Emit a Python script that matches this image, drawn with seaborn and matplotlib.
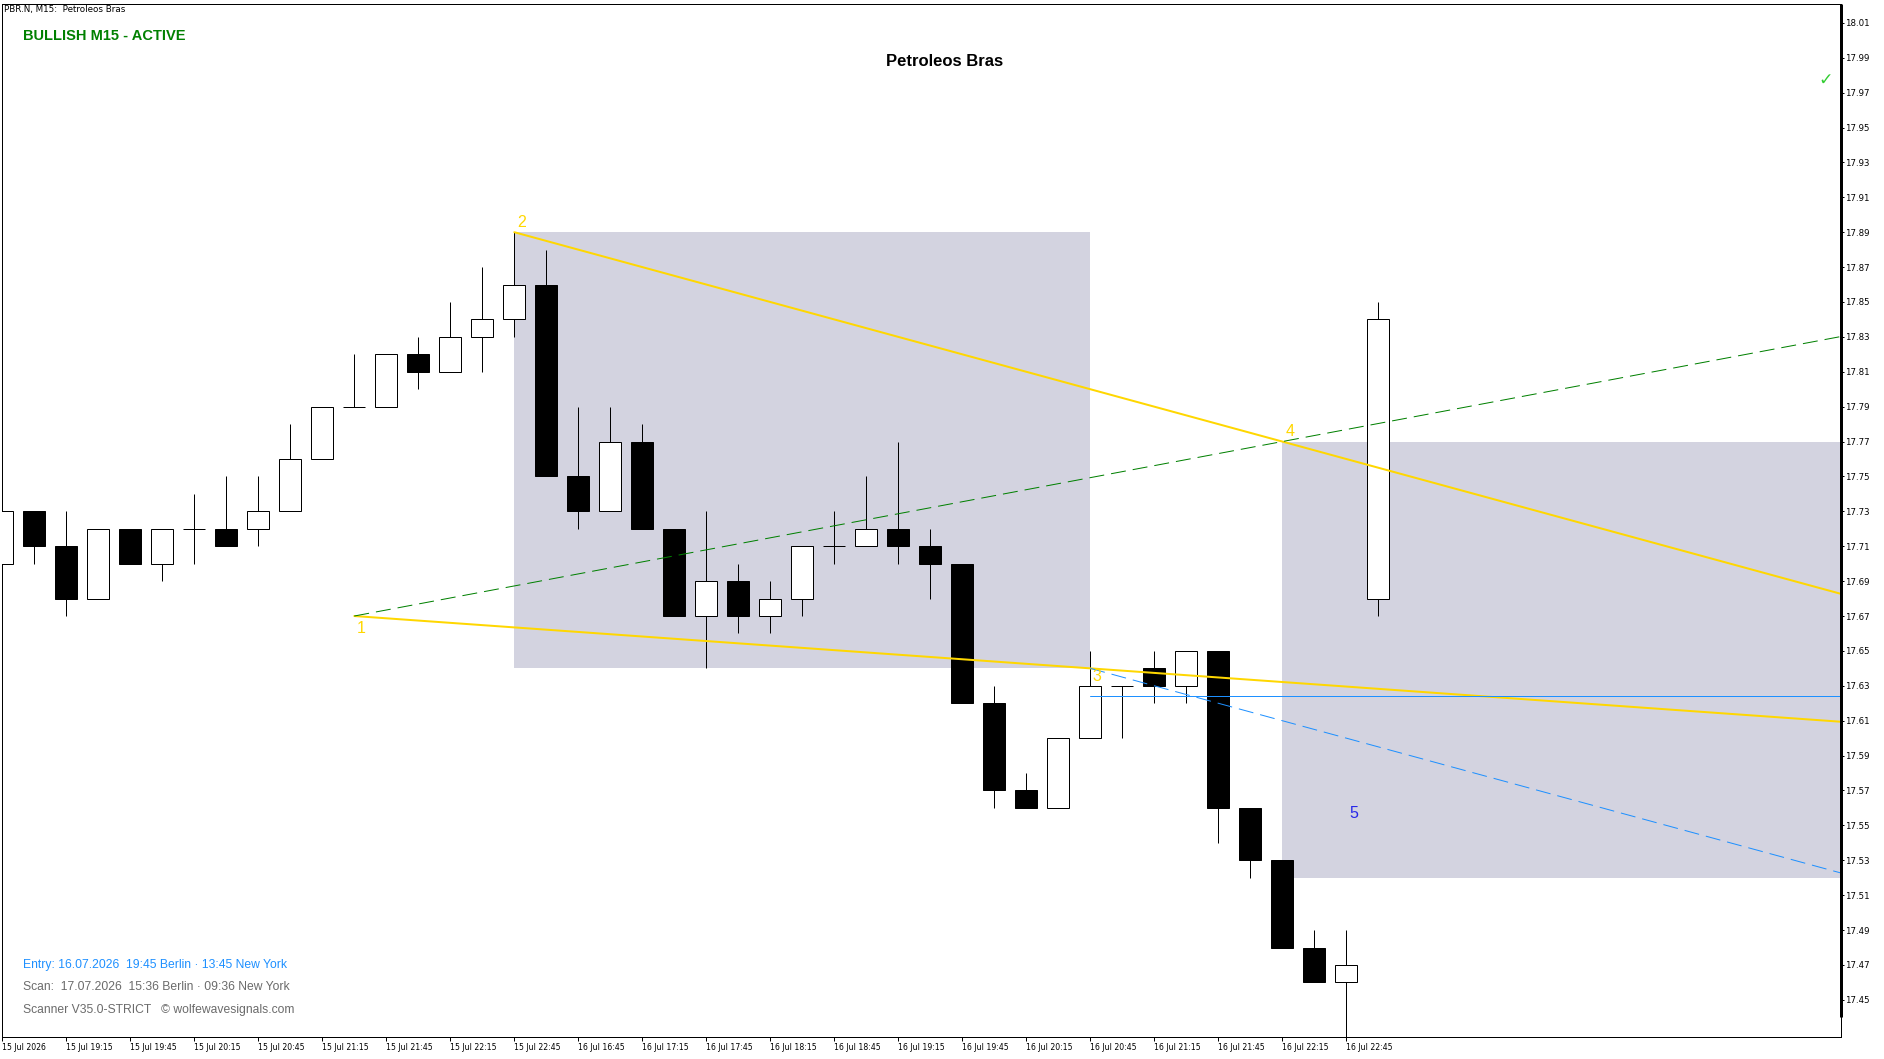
import numpy as np
import pandas as pd
import matplotlib
matplotlib.use("Agg")
import matplotlib.pyplot as plt
import seaborn as sns

# ------------------------------------------------------------------ data
opens  = [17.70, 17.73, 17.71, 17.68, 17.72, 17.70, 17.72, 17.72, 17.72, 17.73,
          17.76, 17.79, 17.79, 17.82, 17.81, 17.83, 17.84, 17.86, 17.75, 17.73,
          17.77, 17.72, 17.67, 17.69, 17.67, 17.68, 17.71, 17.71, 17.72, 17.71,
          17.70, 17.62, 17.57, 17.56, 17.60, 17.63, 17.64, 17.63, 17.65, 17.56,
          17.53, 17.48, 17.46, 17.68]
highs  = [17.73, 17.73, 17.73, 17.72, 17.72, 17.72, 17.74, 17.75, 17.75, 17.78,
          17.79, 17.82, 17.82, 17.83, 17.85, 17.87, 17.89, 17.88, 17.79, 17.79,
          17.78, 17.72, 17.73, 17.70, 17.69, 17.71, 17.73, 17.75, 17.77, 17.72,
          17.70, 17.63, 17.58, 17.60, 17.65, 17.63, 17.65, 17.65, 17.65, 17.56,
          17.53, 17.49, 17.49, 17.85]
lows   = [17.70, 17.70, 17.67, 17.68, 17.70, 17.69, 17.70, 17.71, 17.71, 17.73,
          17.76, 17.79, 17.79, 17.80, 17.81, 17.81, 17.83, 17.75, 17.72, 17.73,
          17.72, 17.67, 17.64, 17.66, 17.66, 17.67, 17.70, 17.71, 17.70, 17.68,
          17.62, 17.56, 17.56, 17.56, 17.60, 17.60, 17.62, 17.62, 17.54, 17.52,
          17.48, 17.46, 17.42, 17.67]
closes = [17.73, 17.71, 17.68, 17.72, 17.70, 17.72, 17.72, 17.71, 17.73, 17.76,
          17.79, 17.79, 17.82, 17.81, 17.83, 17.84, 17.86, 17.75, 17.73, 17.77,
          17.72, 17.67, 17.69, 17.67, 17.68, 17.71, 17.71, 17.72, 17.71, 17.70,
          17.62, 17.57, 17.56, 17.60, 17.63, 17.63, 17.63, 17.65, 17.56, 17.53,
          17.48, 17.46, 17.47, 17.84]

time_labels = ["15 Jul 2026", "15 Jul 19:15", "15 Jul 19:45", "15 Jul 20:15",
               "15 Jul 20:45", "15 Jul 21:15", "15 Jul 21:45", "15 Jul 22:15",
               "15 Jul 22:45", "16 Jul 16:45", "16 Jul 17:15", "16 Jul 17:45",
               "16 Jul 18:15", "16 Jul 18:45", "16 Jul 19:15", "16 Jul 19:45",
               "16 Jul 20:15", "16 Jul 20:45", "16 Jul 21:15", "16 Jul 21:45",
               "16 Jul 22:15", "16 Jul 22:45"]
time_label_bars = [0, 2, 4, 6, 8, 10, 12, 14, 16, 18, 20, 22, 24, 26, 28, 30,
                   32, 34, 36, 38, 40, 42]

price_ticks = [17.45, 17.47, 17.49, 17.51, 17.53, 17.55, 17.57, 17.59, 17.61,
               17.63, 17.65, 17.67, 17.69, 17.71, 17.73, 17.75, 17.77, 17.79,
               17.81, 17.83, 17.85, 17.87, 17.89, 17.91, 17.93, 17.95, 17.97,
               17.99, 18.01]

wave_names  = ["1", "2", "3", "4"]
wave_bars   = [11, 16, 34, 40]
wave_prices = [17.67, 17.89, 17.64, 17.77]

target_name  = "5"
target_bar   = 42.25
target_price = 17.557
entry_price  = 17.624
zone2_low    = 17.52

title_text   = "Petroleos Bras"
symbol_text  = "PBR.N, M15:  Petroleos Bras"
status_text  = "BULLISH M15 - ACTIVE"
entry_text   = "Entry: 16.07.2026  19:45 Berlin \u00b7 13:45 New York"
scan_text    = "Scan:  17.07.2026  15:36 Berlin \u00b7 09:36 New York"
credit_text  = "Scanner V35.0-STRICT   \u00a9 wolfewavesignals.com"

# ------------------------------------------------------------------ style
W, H, DPI = 1884, 1059, 100
PX = 72.0 / DPI          # points per pixel

sns.set_theme(style="white")
plt.rcParams["font.family"] = ["Liberation Sans", "DejaVu Sans"]
plt.rcParams["axes.linewidth"] = PX

GOLD = "#FFD700"
ZONE = "#D3D3E0"
GREEN = "#008000"
BLUE = "#1E90FF"

fig = plt.figure(figsize=(W / DPI, H / DPI), dpi=DPI)
fig.patch.set_facecolor("white")
ax = fig.add_axes([2 / W, (H - 1037) / H, (1841 - 2) / W, (1037 - 4) / H])
ax.set_facecolor("white")

XMAX = 57.46
ax.set_xlim(-0.01, XMAX)
ax.set_ylim(17.4287, 18.0208)

df = pd.DataFrame({"bar": np.arange(len(opens)), "open": opens, "high": highs,
                   "low": lows, "close": closes})
df["up"] = df["close"] >= df["open"]
df["bottom"] = df[["open", "close"]].min(axis=1)
df["height"] = (df["close"] - df["open"]).abs()

# zones
ax.fill_between([wave_bars[1], wave_bars[2]], wave_prices[2], wave_prices[1],
                color=ZONE, lw=0, zorder=1)
ax.fill_between([wave_bars[3], XMAX + 2], zone2_low, wave_prices[3],
                color=ZONE, lw=0, zorder=1)

# candles
BW = 0.69
ax.vlines(df["bar"], df["low"], df["high"], color="black", lw=PX, zorder=3)
body = df[df["height"] > 0]
ax.bar(body["bar"], body["height"], bottom=body["bottom"], width=BW,
       color=np.where(body["up"], "white", "black"), edgecolor="black",
       linewidth=PX, zorder=4)
doji = df[df["height"] == 0]
ax.hlines(doji["close"], doji["bar"] - BW / 2, doji["bar"] + BW / 2,
          color="black", lw=PX, zorder=4)


def extend(xa, ya, slope, x_end):
    return [xa, x_end], [ya, ya + slope * (x_end - xa)]


s13 = (wave_prices[2] - wave_prices[0]) / (wave_bars[2] - wave_bars[0])
s24 = (wave_prices[3] - wave_prices[1]) / (wave_bars[3] - wave_bars[1])
s14 = (wave_prices[3] - wave_prices[0]) / (wave_bars[3] - wave_bars[0])

lines = [
    (extend(wave_bars[0], wave_prices[0], s13, XMAX), GOLD, 2 * PX, "-"),
    (extend(wave_bars[1], wave_prices[1], s24, XMAX), GOLD, 2 * PX, "-"),
    (extend(wave_bars[0], wave_prices[0], s14, XMAX), GREEN, PX, (0, (15, 7))),
    (extend(wave_bars[2], wave_prices[2], s24, XMAX), BLUE, PX, (0, (15, 7))),
    (([wave_bars[2], XMAX], [entry_price, entry_price]), BLUE, PX, "-"),
]
for (xs, ys), col, lw, ls in lines:
    sns.lineplot(x=xs, y=ys, ax=ax, color=col, lw=lw, linestyle=ls,
                 zorder=6, legend=False)

offsets = [(7, -12), (7, 10), (7, -8), (8, 10)]
for name, bx, py, (dx, dy) in zip(wave_names, wave_bars, wave_prices, offsets):
    ax.annotate(name, (bx, py), xytext=(dx * PX, dy * PX),
                textcoords="offset points", ha="center", va="center",
                color=GOLD, fontsize=11.5, zorder=7)
ax.text(target_bar, target_price, target_name, color="#2828E8",
        fontsize=11.5, ha="center", va="center", zorder=7)

# axes / ticks
for sp in ax.spines.values():
    sp.set_color("black")
    sp.set_linewidth(PX)
    sp.set_visible(True)
ax.plot([1, 1], [0.019, 1], transform=ax.transAxes, color="black",
        lw=3 * PX, clip_on=False, solid_capstyle="butt", zorder=8)

ax.yaxis.tick_right()
ax.set_yticks(price_ticks)
ax.set_yticklabels([f"{p:.2f}" for p in price_ticks])
ax.tick_params(axis="y", which="both", right=True, left=False,
               direction="out", length=3 * PX, width=PX, pad=1.5 * PX,
               labelsize=6.2, labelcolor="black", color="black",
               labelfontfamily="DejaVu Sans")
ax.set_xticks(time_label_bars)
ax.set_xticklabels(time_labels)
ax.tick_params(axis="x", which="both", bottom=True, top=False,
               direction="out", length=4 * PX, width=PX, pad=2 * PX,
               labelsize=5.6, labelcolor="black", color="black",
               labelfontfamily="DejaVu Sans")
for lbl in ax.get_xticklabels():
    lbl.set_ha("left")
ax.set_xlabel("")
ax.set_ylabel("")
ax.grid(False)

# texts
fig.text(4 / W, 1 - 9.5 / H, symbol_text, fontsize=6.3, va="center",
         ha="left", color="black", family="DejaVu Sans")
fig.text(23 / W, 1 - 36.5 / H, status_text, fontsize=10.5, fontweight="bold",
         va="center", ha="left", color="#008000")
fig.text(945 / W, 1 - 61 / H, title_text, fontsize=12, fontweight="bold",
         va="center", ha="center", color="black")
fig.text(1826 / W, 1 - 80 / H, "\u2713", fontsize=12.5, va="center",
         ha="center", color="#32CD32", family="DejaVu Sans")
fig.text(23 / W, 1 - 965 / H, entry_text, fontsize=8.7, va="center",
         ha="left", color=BLUE)
fig.text(23 / W, 1 - 987 / H, scan_text, fontsize=8.7, va="center",
         ha="left", color="#6B6B6B")
fig.text(23 / W, 1 - 1010 / H, credit_text, fontsize=8.7, va="center",
         ha="left", color="#6B6B6B")

fig.savefig("out.png", dpi=DPI, facecolor="white")
